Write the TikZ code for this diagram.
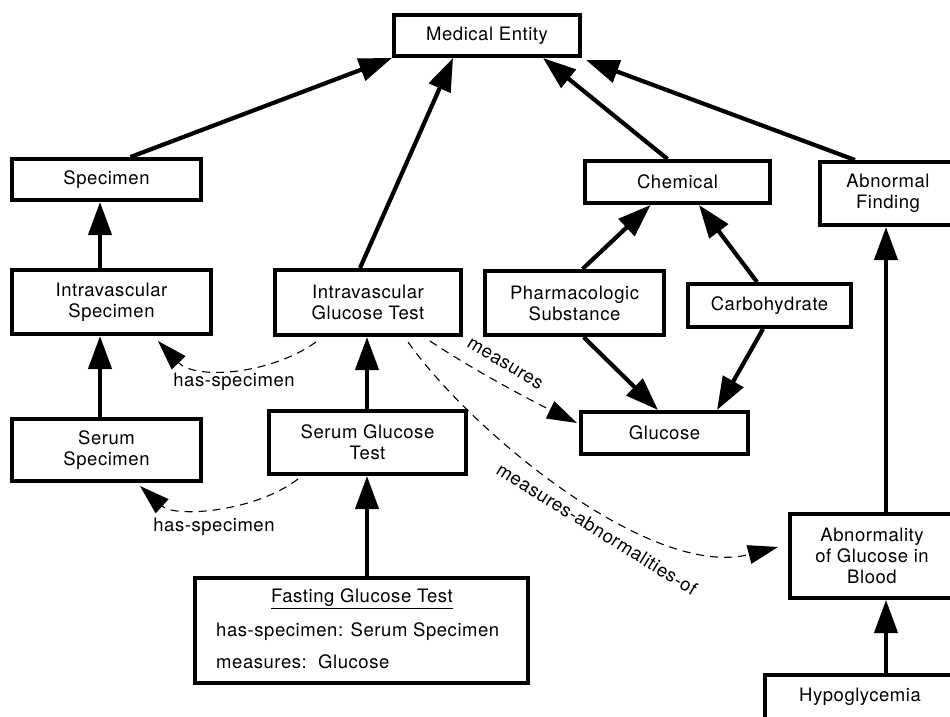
\documentclass[tikz,border=0pt]{standalone}
\usepackage{fontspec}
\setmainfont{TeX Gyre Heros}[LetterSpace=3]
\usetikzlibrary{arrows.meta}
\begin{document}
\begin{tikzpicture}[x=1pt,y=-1pt,
  box/.style={draw, line width=4.2pt, rectangle, inner sep=0pt, align=center, font=\fontsize{18.5}{21}\selectfont},
  lbl/.style={inner sep=0pt, font=\fontsize{18.5}{21}\selectfont},
  isa/.style={line width=4.2pt, -{Triangle[length=33pt,width=23pt]}},
  rel/.style={line width=1.1pt, dash pattern=on 8pt off 6pt, -{Triangle[length=30pt,width=19pt]}},
]
\useasboundingbox (0,0) rectangle (950,716);
% nodes
\node[box, minimum width=185.8pt, minimum height=40.8pt] (me) at (487,35.5) {Medical Entity};
\node[box, minimum width=188.8pt, minimum height=40.8pt] (spec) at (106.5,179.5) {Specimen};
\node[box, minimum width=198.8pt, minimum height=63.8pt] (ivs) at (111.5,302) {Intravascular\\Specimen};
\node[box, minimum width=188.8pt, minimum height=61.8pt] (ss) at (106.5,450) {Serum\\Specimen};
\node[box, minimum width=185.8pt, minimum height=64.8pt] (igt) at (368,302.5) {Intravascular\\Glucose Test};
\node[box, minimum width=196.8pt, minimum height=62.8pt] (sgt) at (367.5,442.5) {Serum Glucose\\Test};
\node[box, minimum width=332.8pt, minimum height=104.8pt] (fgt) at (361.5,630.5) {};
\node[lbl] (fgtt) at (362,599) {\underline{Fasting Glucose Test}};
\node[lbl, anchor=west] (fgths) at (216,632) {has-specimen: Serum Specimen};
\node[lbl, anchor=west] (fgtm) at (216,662) {measures:\ \ Glucose};
\node[box, minimum width=184.8pt, minimum height=41.8pt] (chem) at (677.5,182) {Chemical};
\node[box, minimum width=135.8pt, minimum height=62.8pt] (abf) at (888,193.5) {Abnormal\\Finding};
\node[box, minimum width=178.8pt, minimum height=63.8pt] (ph) at (574.5,303) {Pharmacologic\\Substance};
\node[box, minimum width=162.8pt, minimum height=42.8pt] (carb) at (769.5,305.5) {Carbohydrate};
\node[box, minimum width=166.8pt, minimum height=41.8pt] (glu) at (664.5,433) {Glucose};
\node[box, minimum width=163.8pt, minimum height=83.8pt] (aog) at (872,556) {Abnormality\\of Glucose in\\Blood};
\node[box, minimum width=189.8pt, minimum height=43.8pt] (hypo) at (860,697) {Hypoglycemia};
% is-a arrows
\draw[isa] ([xshift=24pt]spec.north) -- (me.south west);
\draw[isa] ([xshift=-8pt]igt.north) -- ([xshift=-34pt]me.south);
\draw[isa] ([xshift=-10pt]chem.north) -- ([xshift=56pt]me.south);
\draw[isa] ([xshift=-33pt]abf.north) -- ([xshift=4pt,yshift=-2pt]me.south east);
\draw[isa] ([xshift=-11.5pt]ivs.north) -- ([xshift=-6.5pt]spec.south);
\draw[isa] ([xshift=-6.5pt]ss.north) -- ([xshift=-11.5pt]ivs.south);
\draw[isa] ([xshift=-0.5pt]sgt.north) -- ([xshift=-1pt]igt.south);
\draw[isa] ([xshift=5.5pt]fgt.north) -- ([xshift=-0.5pt]sgt.south);
\draw[isa] ([xshift=8pt]ph.north) -- ([xshift=-27pt]chem.south);
\draw[isa] ([xshift=-12.5pt]carb.north) -- ([xshift=21.5pt]chem.south);
\draw[isa] ([xshift=9pt]ph.south) -- ([xshift=-6.5pt]glu.north);
\draw[isa] ([xshift=-6.5pt]carb.south) -- ([xshift=52.5pt]glu.north);
\draw[isa] ([xshift=14pt]aog.north) -- ([xshift=-2pt]abf.south);
\draw[isa] ([xshift=26pt]hypo.north) -- ([xshift=14pt]aog.south);
% relation arrows
\draw[rel] ([xshift=-52pt,yshift=-5pt]igt.south) .. controls (270,375) and (195,380) .. ([xshift=-55pt,yshift=-5pt]ivs.south east);
\draw[rel] ([xshift=-69.5pt,yshift=-3pt]sgt.south) .. controls (255,512) and (175,518) .. ([xshift=-63pt,yshift=-3pt]ss.south east);
\draw[rel] ([xshift=-33pt,yshift=-4pt]igt.south east) .. controls (470,368) and (530,400) .. ([xshift=-2pt,yshift=10pt]glu.west);
\draw[rel] ([xshift=40pt,yshift=-5pt]igt.south) .. controls (470,430) and (650,580) .. ([xshift=-10pt,yshift=9pt]aog.west);
% labels
\node[lbl] (hsl1) at (234,382) {has-specimen};
\node[lbl] (hsl2) at (214,527) {has-specimen};
\node[lbl, rotate=-31] (ml) at (505,364) {measures};
\node[lbl, rotate=-32] (mal) at (597,529) {measures-abnormalities-of};
\end{tikzpicture}
\end{document}
